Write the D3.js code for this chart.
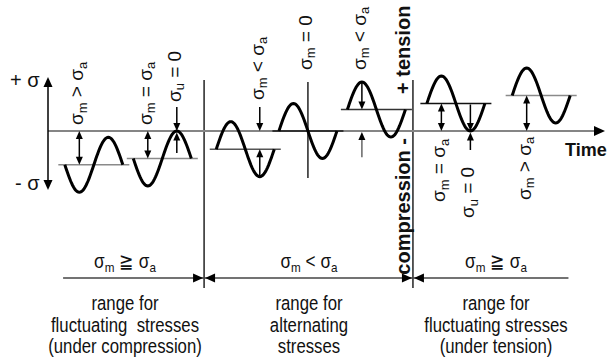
<!DOCTYPE html>
<html>
<head>
<meta charset="utf-8">
<script src="https://cdn.jsdelivr.net/npm/d3@7"></script>
<style>
    body { margin: 0; background: #fff; }
    svg { display: block; }
    text { font-family: 'Liberation Sans', Arial, sans-serif; fill: #111; }
</style>
</head>
<body>
<svg class="svg" width="614" height="361"></svg>
<script>
// seven stress cycles: start time (in periods), mean stress (in units of sigma_a), first swing
let waveStart = [0.29, 1.47, 2.9, 3.98, 5.16, 6.53, 8.0];
let waveMean = [-1.23, -1, -0.66, 0, 0.78, 1, 1.29];
let waveDir = [-1, -1, 1, 1, 1, 1, 1];
let meanLineColor = ['#8a8a8a', '#8a8a8a', '#555', '#333', '#333', '#111', '#8a8a8a'];

// rotated labels over / under the cycles [sigma, sub, relation, sigma, sub]
let labelText = [
    ['σ', 'm', ' > ', 'σ', 'a'],
    ['σ', 'm', ' = ', 'σ', 'a'],
    ['σ', 'u', ' = 0', '', ''],
    ['σ', 'm', ' < ', 'σ', 'a'],
    ['σ', 'm', ' = 0', '', ''],
    ['σ', 'm', ' < ', 'σ', 'a'],
    ['σ', 'm', ' = ', 'σ', 'a'],
    ['σ', 'u', ' = 0', '', ''],
    ['σ', 'm', ' > ', 'σ', 'a']
];

// ranges along the bottom
let rangeCond = [['σ', 'm', ' ≧ ', 'σ', 'a'], ['σ', 'm', ' < ', 'σ', 'a'], ['σ', 'm', ' ≧ ', 'σ', 'a']];
let rangeText = [
    ['range for', 'fluctuating  stresses', '(under compression)'],
    ['range for', 'alternating', 'stresses'],
    ['range for', 'fluctuating stresses', '(under tension)']
];
let rangeBounds = [0.26, 2.69, 6.29, 8.97];

let svg = d3.select('.svg');
let x = d3.scaleLinear().domain([0, 9.6]).range([48, 605]);
let y = d3.scaleLinear().domain([-1, 1]).range([158.5, 103.5]);

function arrowHead(px, py, dir, len, half) {
    // dir: direction the tip points
    let p;
    if (dir === 'down') p = [[px, py], [px - half, py - len], [px + half, py - len]];
    if (dir === 'up') p = [[px, py], [px - half, py + len], [px + half, py + len]];
    if (dir === 'right') p = [[px, py], [px - len, py - half], [px - len, py + half]];
    if (dir === 'left') p = [[px, py], [px + len, py - half], [px + len, py + half]];
    svg.append('path').attr('d', 'M' + p.join('L') + 'Z').attr('fill', '#000');
}

function vArrow(px, yFrom, yTo, color) {
    let dir = yTo > yFrom ? 'down' : 'up';
    svg.append('line').attr('x1', px).attr('x2', px).attr('y1', yFrom).attr('y2', yTo + (dir === 'down' ? -4 : 4))
        .style('stroke', color || '#000').style('stroke-width', 1.5);
    arrowHead(px, yTo, dir, 8, 3.5);
}

function dblArrow(px, y1, y2) {
    svg.append('line').attr('x1', px).attr('x2', px).attr('y1', y1 + 4).attr('y2', y2 - 4)
        .style('stroke', '#000').style('stroke-width', 1.5);
    arrowHead(px, y1, 'up', 8, 3.5);
    arrowHead(px, y2, 'down', 8, 3.5);
}

function sigmaLabel(g, parts, size) {
    let t = g.append('text').attr('font-size', size);
    t.append('tspan').text(parts[0]);
    t.append('tspan').attr('font-size', size * 0.68).attr('dy', size * 0.18).text(parts[1]);
    t.append('tspan').attr('dy', -size * 0.18).text(parts[2]);
    if (parts[3] !== '') {
        t.append('tspan').text(parts[3]);
        t.append('tspan').attr('font-size', size * 0.68).attr('dy', size * 0.18).text(parts[4]);
    }
    return t;
}

// dividers
[rangeBounds[1], rangeBounds[2]].forEach(function (d) {
    svg.append('line').attr('x1', x(d)).attr('x2', x(d)).attr('y1', 80).attr('y2', 288)
        .style('stroke', '#000').style('stroke-width', 1.3);
});

// time axis
svg.append('line').attr('x1', x(0)).attr('x2', x(9.6) - 8).attr('y1', y(0)).attr('y2', y(0))
    .style('stroke', '#858585').style('stroke-width', 2);
arrowHead(x(9.6), y(0), 'right', 11, 5);
svg.append('text').attr('x', 565).attr('y', 156).attr('font-size', 18).attr('font-weight', 'bold').text('Time');

// stress axis
svg.append('line').attr('x1', x(0)).attr('x2', x(0)).attr('y1', 86).attr('y2', 181)
    .style('stroke', '#000').style('stroke-width', 1.5);
arrowHead(x(0), 77, 'up', 10, 4.5);
arrowHead(x(0), 190, 'down', 10, 4.5);
svg.append('text').attr('x', 10).attr('y', 87).attr('font-size', 20).text('+ σ');
svg.append('text').attr('x', 15).attr('y', 190).attr('font-size', 20).text('- σ');

// mean lines
for (let i = 0; i < waveStart.length; i++) {
    svg.append('line')
        .attr('x1', x(waveStart[i]) - 6.5).attr('x2', x(waveStart[i] + 1) + 6.5)
        .attr('y1', y(waveMean[i])).attr('y2', y(waveMean[i]))
        .style('stroke', meanLineColor[i]).style('stroke-width', i === 3 ? 2 : 1.5);
}

// centre line of the alternating cycle
svg.append('line').attr('x1', x(waveStart[3] + 0.5)).attr('x2', x(waveStart[3] + 0.5))
    .attr('y1', y(1.78)).attr('y2', y(-1.71)).style('stroke', '#000').style('stroke-width', 1.3);

// sine curves
let line = d3.line().x(function (d) { return d[0]; }).y(function (d) { return d[1]; });
for (let i = 0; i < waveStart.length; i++) {
    let pts = d3.range(0, 1.0001, 1 / 60).map(function (t) {
        return [x(waveStart[i] + t), y(waveMean[i] + waveDir[i] * Math.sin(2 * Math.PI * t))];
    });
    svg.append('path').attr('d', line(pts)).attr('fill', 'none')
        .style('stroke', '#000').style('stroke-width', 3);
}

// dimension arrows
let trough = function (i) { return x(waveStart[i] + (waveDir[i] < 0 ? 0.25 : 0.75)); };
let peak = function (i) { return x(waveStart[i] + (waveDir[i] < 0 ? 0.75 : 0.25)); };

dblArrow(trough(0), y(0), y(waveMean[0]));
dblArrow(trough(1), y(0), y(waveMean[1]));
vArrow(peak(1), y(0.87), y(0));
vArrow(peak(1), y(-0.8), y(0) + 1.5);
vArrow(trough(2), y(0.87), y(0));
vArrow(trough(2), y(waveMean[2] - 1), y(waveMean[2]));
vArrow(peak(4), y(waveMean[4] + 1), y(waveMean[4]));
vArrow(peak(4), y(-0.95), y(0) + 1, '#666');
dblArrow(peak(5), y(waveMean[5]), y(0));
vArrow(trough(5), y(waveMean[5]) + 1, y(0));
vArrow(trough(5), y(-0.69), y(0) + 1.5);
dblArrow(peak(6), y(waveMean[6]), y(0));

// rotated labels: anchor x, start y
let labelAt = [
    [trough(0), 125], [trough(1), 125], [peak(1), 102], [trough(2), 100], [x(waveStart[3] + 0.5), 70],
    [peak(4), 70], [peak(5), 202], [trough(5), 218], [peak(6), 200]
];
labelText.forEach(function (parts, i) {
    let g = svg.append('g').attr('transform', 'translate(' + (labelAt[i][0] + 4) + ',' + labelAt[i][1] + ') rotate(-90)');
    sigmaLabel(g, parts, 19);
});

// compression / tension
let ct = x(rangeBounds[2]) - 3;
svg.append('text').attr('transform', 'translate(' + ct + ',138) rotate(-90)').attr('text-anchor', 'end')
    .attr('font-size', 20).attr('font-weight', 'bold').text('compression -');
svg.append('text').attr('transform', 'translate(' + ct + ',94) rotate(-90)')
    .attr('font-size', 20).attr('font-weight', 'bold').text('+ tension');

// bottom ranges
svg.append('line').attr('x1', x(rangeBounds[0])).attr('x2', x(rangeBounds[3])).attr('y1', 278).attr('y2', 278)
    .style('stroke', '#444').style('stroke-width', 1.5);
[rangeBounds[1], rangeBounds[2]].forEach(function (d) {
    arrowHead(x(d) - 1, 278, 'right', 10, 4.5);
    arrowHead(x(d) + 1, 278, 'left', 10, 4.5);
});
let centers = [125, 309, 496];
rangeCond.forEach(function (parts, i) {
    // condensed look: squeeze the text horizontally
    let g = svg.append('g').attr('transform', 'translate(' + centers[i] + ',268) scale(0.86,1)');
    sigmaLabel(g, parts, 20).attr('text-anchor', 'middle');
    rangeText[i].forEach(function (s, j) {
        svg.append('g').attr('transform', 'translate(' + centers[i] + ',' + (310 + j * 21.5) + ') scale(0.86,1)')
            .append('text').attr('text-anchor', 'middle').attr('font-size', 19.5)
            .style('white-space', 'pre').text(s);
    });
});
</script>
</body>
</html>
